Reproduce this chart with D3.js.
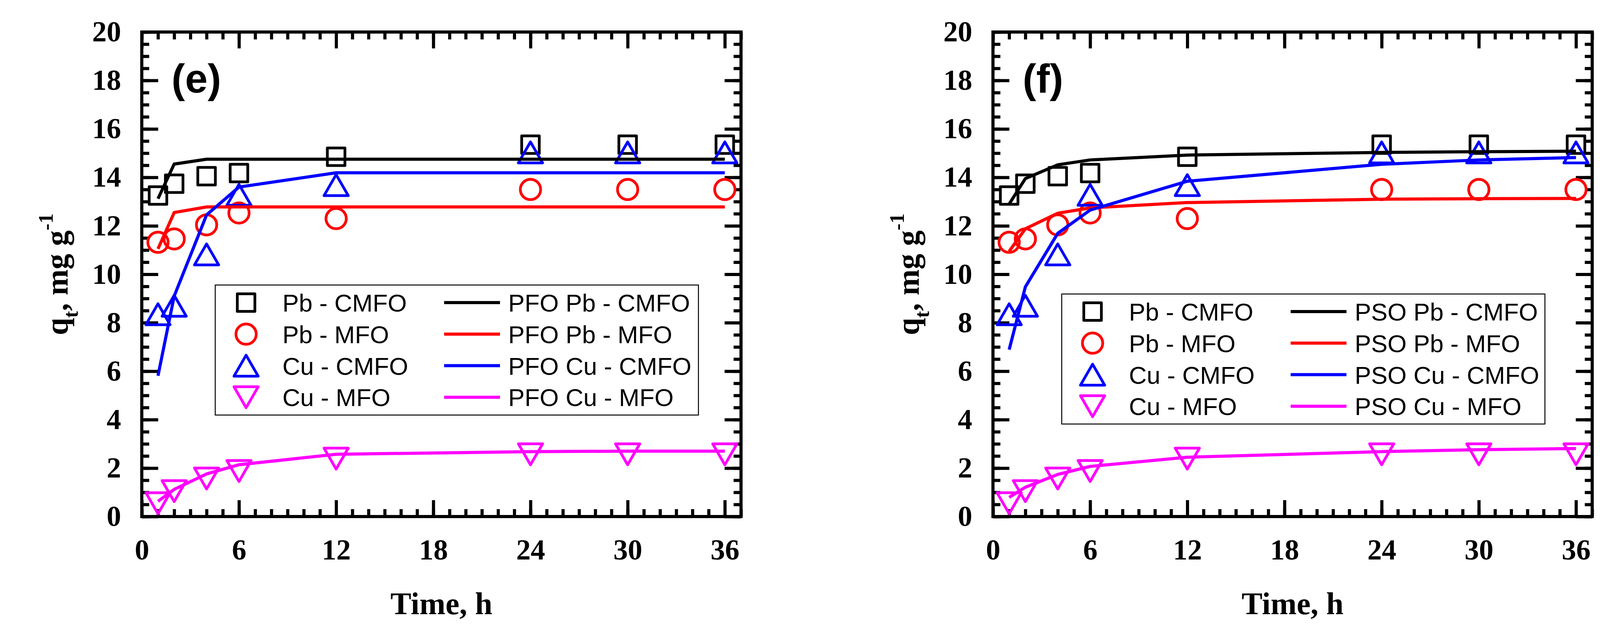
<!DOCTYPE html>
<html>
<head>
<meta charset="utf-8">
<script src="https://cdn.jsdelivr.net/npm/d3@7"></script>
<style>
  html, body { margin: 0; padding: 0; background: #fff; }
  svg { display: block; }
</style>
</head>
<body>
<svg id="chart" width="4180" height="1611"></svg>
<script>
// experimental points (same for both panels)
const TIME = [1, 2, 4, 6, 12, 24, 30, 36];
const PB_CMFO = [13.25, 13.74, 14.05, 14.18, 14.85, 15.35, 15.35, 15.35];
const PB_MFO  = [11.32, 11.46, 12.04, 12.53, 12.30, 13.50, 13.50, 13.50];
const CU_CMFO = [8.35, 8.70, 10.82, 13.28, 13.68, 15.03, 15.03, 15.03];
const CU_MFO  = [0.55, 1.05, 1.57, 1.88, 2.39, 2.57, 2.57, 2.57];

// pseudo first order fits (panel e)
const PFO_PB_CMFO = [13.12, 14.55, 14.75, 14.75, 14.75, 14.75, 14.75, 14.75];
const PFO_PB_MFO  = [11.05, 12.55, 12.78, 12.78, 12.78, 12.78, 12.78, 12.78];
const PFO_CU_CMFO = [5.81, 9.10, 12.45, 13.60, 14.19, 14.19, 14.19, 14.19];
const PFO_CU_MFO  = [0.63, 1.12, 1.76, 2.14, 2.57, 2.68, 2.70, 2.70];

// pseudo second order fits (panel f)
const PSO_PB_CMFO = [12.90, 13.95, 14.52, 14.72, 14.92, 15.03, 15.06, 15.08];
const PSO_PB_MFO  = [10.95, 11.88, 12.52, 12.74, 12.96, 13.10, 13.12, 13.13];
const PSO_CU_CMFO = [6.89, 9.48, 11.69, 12.65, 13.84, 14.54, 14.72, 14.82];
const PSO_CU_MFO  = [0.79, 1.21, 1.74, 2.07, 2.45, 2.68, 2.76, 2.81];

const SERIES = ["Pb - CMFO", "Pb - MFO", "Cu - CMFO", "Cu - MFO"];
const COLORS = ["#000000", "#ff0000", "#0000ff", "#ff00ff"];
const X_TICKS = [0, 6, 12, 18, 24, 30, 36];
const X_MINOR = d3.range(0, 38, 1);
const Y_TICKS = d3.range(0, 21, 2);
const Y_MINOR = d3.range(0, 20.01, 0.5);

// origin-like symbols, centred on their bounding box
const sqType = { draw(c, s) { const h = s / 2; c.moveTo(-h, -h); c.lineTo(h, -h); c.lineTo(h, h); c.lineTo(-h, h); c.closePath(); } };
const ciType = { draw(c, s) { c.moveTo(s, 0); c.arc(0, 0, s, 0, 2 * Math.PI); } };
const upType = { draw(c, s) { const h = s * 0.866 / 2; c.moveTo(0, -h); c.lineTo(s / 2, h); c.lineTo(-s / 2, h); c.closePath(); } };
const dnType = { draw(c, s) { const h = s * 0.866 / 2; c.moveTo(0, h); c.lineTo(s / 2, -h); c.lineTo(-s / 2, -h); c.closePath(); } };
const SYMBOLS = [d3.symbol(sqType, 45), d3.symbol(ciType, 26), d3.symbol(upType, 62), d3.symbol(dnType, 62)];

const panels = [
  { tag: "(e)", model: "PFO", fits: [PFO_PB_CMFO, PFO_PB_MFO, PFO_CU_CMFO, PFO_CU_MFO], left: 363, lgX: 188, lgY: 648 },
  { tag: "(f)", model: "PSO", fits: [PSO_PB_CMFO, PSO_PB_MFO, PSO_CU_CMFO, PSO_CU_MFO], left: 2542, lgX: 176, lgY: 671 }
];
const points = [PB_CMFO, PB_MFO, CU_CMFO, CU_MFO];

const W = 1534, H = 1241, TOP = 82;
const svg = d3.select("#chart");
svg.append("rect").attr("width", 4180).attr("height", 1611).attr("fill", "#fff");

const SERIF = "'Liberation Serif', 'Times New Roman', serif";
const SANS = "'Liberation Sans', Arial, sans-serif";

panels.forEach(p => {
  const g = svg.append("g").attr("transform", `translate(${p.left},${TOP})`);

  const x = d3.scaleLinear().domain([0, 37]).range([0, W]);
  const y = d3.scaleLinear().domain([0, 20]).range([H, 0]);

  const styleAxis = sel => {
    sel.select(".domain").remove();
    sel.selectAll(".tick line").attr("stroke-width", 8);
    sel.selectAll("text")
      .attr("fill", "#000")
      .style("font-family", SERIF)
      .style("font-weight", "bold")
      .style("font-size", "75px");
  };

  // minor ticks, all four sides
  g.append("g").attr("transform", `translate(0,${H})`)
    .call(d3.axisBottom(x).tickValues(X_MINOR).tickSize(-19).tickFormat(() => "")).call(styleAxis);
  g.append("g")
    .call(d3.axisTop(x).tickValues(X_MINOR).tickSize(-19).tickFormat(() => "")).call(styleAxis);
  g.append("g")
    .call(d3.axisLeft(y).tickValues(Y_MINOR).tickSize(-19).tickFormat(() => "")).call(styleAxis);
  g.append("g").attr("transform", `translate(${W},0)`)
    .call(d3.axisRight(y).tickValues(Y_MINOR).tickSize(-19).tickFormat(() => "")).call(styleAxis);

  // major ticks
  g.append("g").attr("transform", `translate(0,${H})`)
    .call(d3.axisBottom(x).tickValues(X_TICKS).tickSize(-42).tickPadding(57)).call(styleAxis);
  g.append("g")
    .call(d3.axisTop(x).tickValues(X_TICKS).tickSize(-42).tickFormat(() => "")).call(styleAxis);
  g.append("g")
    .call(d3.axisLeft(y).tickValues(Y_TICKS).tickSize(-42).tickPadding(53)).call(styleAxis);
  g.append("g").attr("transform", `translate(${W},0)`)
    .call(d3.axisRight(y).tickValues(Y_TICKS).tickSize(-42).tickFormat(() => "")).call(styleAxis);

  g.selectAll("text").style("font-size", "74px");

  // frame
  g.append("rect").attr("width", W).attr("height", H)
    .attr("fill", "none").attr("stroke", "#000").attr("stroke-width", 8);

  // scatter
  points.forEach((vals, i) => {
    g.append("g").selectAll("path")
      .data(TIME.map((t, k) => [t, vals[k]]))
      .join("path")
      .attr("transform", d => `translate(${x(d[0])},${y(d[1])})`)
      .attr("d", SYMBOLS[i])
      .attr("fill", "none")
      .attr("stroke", COLORS[i])
      .attr("stroke-width", 7)
      .attr("stroke-linejoin", "round");
  });

  // model lines
  const line = d3.line().x(d => x(d[0])).y(d => y(d[1]));
  p.fits.forEach((vals, i) => {
    g.append("path")
      .datum(TIME.map((t, k) => [t, vals[k]]))
      .attr("d", line)
      .attr("fill", "none")
      .attr("stroke", COLORS[i])
      .attr("stroke-width", 8);
  });

  // panel tag
  g.append("text").attr("x", 76).attr("y", 155)
    .style("font-family", SANS).style("font-weight", "bold").style("font-size", "104px")
    .text(p.tag);

  // legend
  const lg = g.append("g").attr("transform", `translate(${p.lgX},${p.lgY})`);
  lg.append("rect").attr("width", 1237).attr("height", 333)
    .attr("fill", "#fff").attr("stroke", "#000").attr("stroke-width", 2.5);
  SERIES.forEach((name, i) => {
    const cy = 45 + i * 80.8;
    lg.append("path").attr("transform", `translate(79,${cy})`)
      .attr("d", SYMBOLS[i]).attr("fill", "none")
      .attr("stroke", COLORS[i]).attr("stroke-width", 7).attr("stroke-linejoin", "round");
    lg.append("text").attr("x", 172).attr("y", cy + 23)
      .style("font-family", SANS).style("font-size", "63px").text(name);
    lg.append("line").attr("x1", 586).attr("x2", 729).attr("y1", cy).attr("y2", cy)
      .attr("stroke", COLORS[i]).attr("stroke-width", 8);
    lg.append("text").attr("x", 750).attr("y", cy + 23)
      .style("font-family", SANS).style("font-size", "63px").text(`${p.model} ${name}`);
  });

  // axis titles
  g.append("text").attr("x", W / 2).attr("y", 1573 - TOP)
    .attr("text-anchor", "middle")
    .style("font-family", SERIF).style("font-weight", "bold").style("font-size", "80px")
    .text("Time, h");

  const yl = g.append("text")
    .attr("transform", `translate(${173 - 363},${H / 2}) rotate(-90)`)
    .attr("text-anchor", "middle")
    .style("font-family", SERIF).style("font-weight", "bold").style("font-size", "80px");
  yl.append("tspan").text("q");
  yl.append("tspan").attr("dy", 26).style("font-size", "52px").text("t");
  yl.append("tspan").attr("dy", -26).text(", mg g");
  yl.append("tspan").attr("dy", -38).style("font-size", "52px").text("-1");
});
</script>
</body>
</html>
